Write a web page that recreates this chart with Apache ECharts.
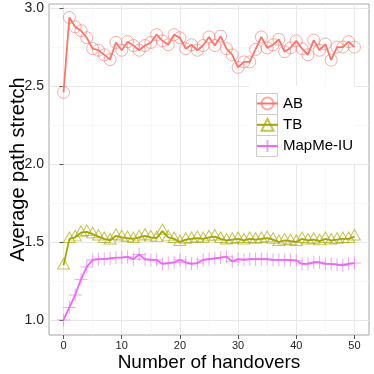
<!DOCTYPE html>
<html>
<head>
<meta charset="utf-8">
<script src="https://cdn.jsdelivr.net/npm/echarts@6/dist/echarts.min.js"></script>
<style>
  html, body { margin: 0; padding: 0; background: #fff; }
  #chart { width: 374px; height: 374px; }
</style>
</head>
<body>
<div id="chart"></div>
<script>
// 数据：横轴为切换次数，三条曲线为平均路径伸展
const handovers = [0, 1, 2, 3, 4, 5, 6, 7, 8, 9, 10, 11, 12, 13, 14, 15, 16, 17, 18, 19, 20,
  21, 22, 23, 24, 25, 26, 27, 28, 29, 30, 31, 32, 33, 34, 35, 36, 37, 38, 39, 40,
  41, 42, 43, 44, 45, 46, 47, 48, 49, 50];

const abValues = [2.46, 2.94, 2.88, 2.855, 2.81, 2.74, 2.73, 2.70, 2.67, 2.78, 2.73,
  2.785, 2.76, 2.73, 2.76, 2.78, 2.83, 2.79, 2.765, 2.83, 2.81, 2.74, 2.765, 2.73, 2.76,
  2.815, 2.76, 2.82, 2.74, 2.70, 2.62, 2.655, 2.655, 2.735, 2.815, 2.745, 2.765, 2.80,
  2.72, 2.745, 2.79, 2.74, 2.70, 2.795, 2.73, 2.77, 2.667, 2.75, 2.75, 2.785, 2.75];

const tbValues = [1.35, 1.52, 1.53, 1.56, 1.565, 1.55, 1.535, 1.52, 1.51, 1.54, 1.53,
  1.525, 1.52, 1.53, 1.54, 1.53, 1.525, 1.57, 1.53, 1.52, 1.50, 1.515, 1.52, 1.525, 1.52,
  1.53, 1.535, 1.52, 1.51, 1.515, 1.52, 1.51, 1.52, 1.515, 1.52, 1.525, 1.515, 1.50,
  1.51, 1.505, 1.50, 1.52, 1.51, 1.515, 1.505, 1.52, 1.51, 1.515, 1.52, 1.52, 1.535];

const mapmeValues = [1.0, 1.08, 1.16, 1.26, 1.34, 1.385, 1.39, 1.39, 1.395, 1.40, 1.40,
  1.405, 1.39, 1.42, 1.39, 1.385, 1.385, 1.36, 1.365, 1.37, 1.385, 1.37, 1.36, 1.365,
  1.385, 1.39, 1.395, 1.40, 1.405, 1.375, 1.39, 1.385, 1.39, 1.39, 1.39, 1.39, 1.385,
  1.385, 1.385, 1.385, 1.38, 1.36, 1.36, 1.37, 1.37, 1.36, 1.36, 1.355, 1.35, 1.36, 1.365];

const xTicks = [0, 10, 20, 30, 40, 50];
const xMinorTicks = [5, 15, 25, 35, 45];
const yTicks = [1.0, 1.5, 2.0, 2.5, 3.0];
const yMinorTicks = [1.25, 1.75, 2.25, 2.75];

const 字体 = "'Liberation Sans', Arial, sans-serif";

function 配对(values) {
  return handovers.map((h, i) => [h, values[i]]);
}

const myChart = echarts.init(document.getElementById("chart"), null, { renderer: "canvas" });

const xRange = { min: -2.5, max: 52.5 };
const yRange = { min: 0.9035, max: 3.0265 };

const option = {
  animation: false,
  backgroundColor: "#fff",
  textStyle: { fontFamily: 字体 },
  grid: {
    left: 49, right: 5, top: 4, bottom: 39,
    outerBoundsMode: "none",
    containLabel: false,
    show: true,
    borderColor: "#a6a6a6",
    borderWidth: 1,
    backgroundColor: "transparent",
  },
  xAxis: [
    {
      type: "value",
      min: xRange.min, max: xRange.max,
      name: "Number of handovers",
      nameLocation: "middle",
      nameGap: 18,
      nameMoveOverlap: false,
      nameTextStyle: { fontSize: 19, color: "#000", fontFamily: 字体 },
      axisLine: { show: false },
      axisTick: { show: true, length: 4, customValues: xTicks, lineStyle: { color: "#555" } },
      axisLabel: {
        customValues: xTicks, fontSize: 11, color: "#222", margin: 5, fontFamily: 字体,
      },
      splitLine: { show: true, lineStyle: { color: "#e8e8e8", width: 1 } },
    },
    {
      type: "value",
      min: xRange.min, max: xRange.max,
      position: "bottom",
      axisLine: { show: false },
      axisTick: { show: false, customValues: xMinorTicks },
      axisLabel: { show: false, customValues: xMinorTicks },
      splitLine: { show: true, lineStyle: { color: "#f3f3f3", width: 0.6 } },
    },
  ],
  yAxis: [
    {
      type: "value",
      min: yRange.min, max: yRange.max,
      name: "Average path stretch",
      nameLocation: "middle",
      nameGap: 21,
      nameMoveOverlap: false,
      nameTextStyle: { fontSize: 20, color: "#000", fontFamily: 字体 },
      axisLine: { show: false },
      axisTick: { show: true, length: 4, customValues: yTicks, lineStyle: { color: "#555" } },
      axisLabel: {
        customValues: yTicks, fontSize: 14, color: "#222", margin: 5, fontFamily: 字体,
        formatter: (v) => v.toFixed(1),
      },
      splitLine: { show: true, lineStyle: { color: "#e8e8e8", width: 1 } },
    },
    {
      type: "value",
      min: yRange.min, max: yRange.max,
      position: "left",
      axisLine: { show: false },
      axisTick: { show: false, customValues: yMinorTicks },
      axisLabel: { show: false, customValues: yMinorTicks },
      splitLine: { show: true, lineStyle: { color: "#f3f3f3", width: 0.6 } },
    },
  ],
  legend: {
    orient: "vertical",
    left: 256,
    top: 96,
    padding: 0,
    itemWidth: 21,
    itemHeight: 15,
    itemGap: 6.3,
    textStyle: { fontSize: 15, color: "#000", fontFamily: 字体 },
    data: ["AB", "TB", "MapMe-IU"],
  },
  graphic: [
    // 图例背景与图例键的灰色边框
    { type: "rect", left: 249, top: 86, z: 2, shape: { width: 106, height: 78 }, style: { fill: "#fff" } },
    { type: "rect", left: 256, top: 93, z: 3, shape: { width: 21, height: 21 }, style: { fill: "#fff", stroke: "#cccccc", lineWidth: 1 } },
    { type: "rect", left: 256, top: 114, z: 3, shape: { width: 21, height: 21 }, style: { fill: "#fff", stroke: "#cccccc", lineWidth: 1 } },
    { type: "rect", left: 256, top: 135, z: 3, shape: { width: 21, height: 21 }, style: { fill: "#fff", stroke: "#cccccc", lineWidth: 1 } },
  ],
  series: [
    {
      name: "AB",
      type: "line",
      data: 配对(abValues),
      symbol: "circle",
      symbolSize: 12,
      lineStyle: { color: "#F8766D", width: 1.8 },
      itemStyle: { color: "rgba(0,0,0,0)", borderColor: "rgba(248,118,109,0.6)", borderWidth: 1 },
    },
    {
      name: "TB",
      type: "line",
      data: 配对(tbValues),
      symbol: "triangle",
      symbolSize: [12, 10.5],
      symbolOffset: [0, -1.7],
      lineStyle: { color: "#A3A500", width: 1.8 },
      itemStyle: { color: "rgba(0,0,0,0)", borderColor: "rgba(163,165,0,0.65)", borderWidth: 1 },
    },
    {
      name: "MapMe-IU",
      type: "line",
      data: 配对(mapmeValues),
      symbol: "path://M0,5L10,5M5,0L5,10",
      symbolSize: 13,
      lineStyle: { color: "#E76BF3", width: 1.8 },
      itemStyle: { color: "rgba(0,0,0,0)", borderColor: "rgba(231,107,243,0.6)", borderWidth: 1 },
    },
  ],
};

myChart.setOption(option);
</script>
</body>
</html>
